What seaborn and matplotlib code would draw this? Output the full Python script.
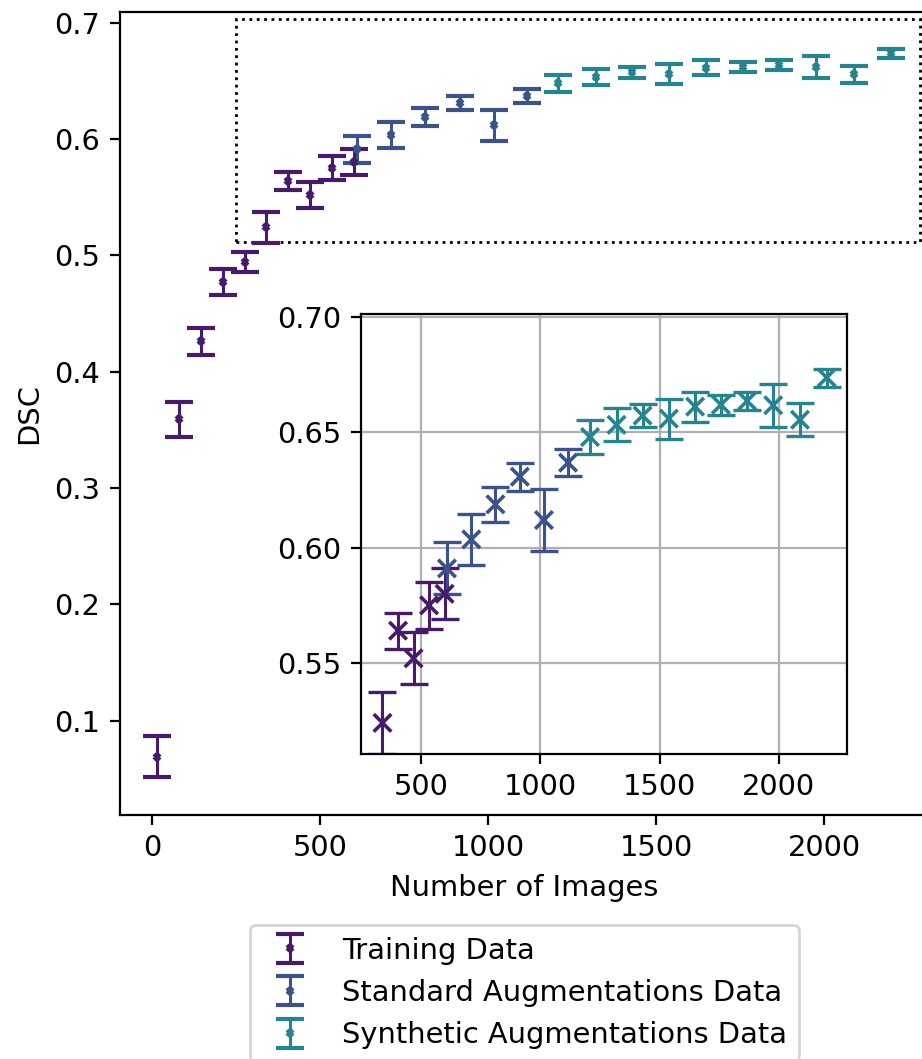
import numpy as np
import pandas as pd
import matplotlib
matplotlib.use("Agg")
import matplotlib.pyplot as plt
from matplotlib.patches import Rectangle
import seaborn as sns

# ---- data ----
train_x = [15, 80, 145, 210, 275, 340, 405, 470, 535, 600]
train_y = [0.069, 0.359, 0.426, 0.477, 0.494, 0.524, 0.564, 0.552, 0.575, 0.580]
train_err = [0.0176, 0.015, 0.0114, 0.0115, 0.0087, 0.0133, 0.0078, 0.0113, 0.0103, 0.011]

std_x = [610, 712, 813, 915, 1016, 1117]
std_y = [0.591, 0.6036, 0.6188, 0.6308, 0.612, 0.6369]
std_err = [0.0113, 0.0112, 0.0075, 0.006, 0.0133, 0.006]

syn_x = [1209, 1320, 1429, 1539, 1649, 1757, 1867, 1976, 2088, 2200]
syn_y = [0.648, 0.6533, 0.6573, 0.656, 0.6612, 0.662, 0.6637, 0.6618, 0.6555, 0.6738]
syn_err = [0.0073, 0.0071, 0.005, 0.0087, 0.0065, 0.0043, 0.004, 0.0093, 0.0071, 0.0039]

labels = ["Training Data", "Standard Augmentations Data", "Synthetic Augmentations Data"]
colors = ["#481a6c", "#3b528b", "#25858e"]

df = pd.concat([
    pd.DataFrame({"n": train_x, "dsc": train_y, "err": train_err, "group": labels[0]}),
    pd.DataFrame({"n": std_x, "dsc": std_y, "err": std_err, "group": labels[1]}),
    pd.DataFrame({"n": syn_x, "dsc": syn_y, "err": syn_err, "group": labels[2]}),
], ignore_index=True)
palette = dict(zip(labels, colors))

plt.rcParams["font.family"] = ["DejaVu Sans"]
plt.rcParams["font.size"] = 10.4

W, H = 922, 1059
fig = plt.figure(figsize=(W / 200, H / 200), dpi=200)

# main axes (right spine lies just beyond the canvas, as in the reference)
ax = fig.add_axes([119.5 / W, 1 - 815 / H, (928 - 119.5) / W, (815 - 12) / H])
for lab in labels:
    d = df[df.group == lab]
    ax.errorbar(d.n, d.dsc, yerr=d.err, fmt="x", ms=2, mew=1.5, color=palette[lab],
                elinewidth=1.1, capsize=5, capthick=1.2, label=lab)
ax.set_xlim(-97, 2309)
ax.set_ylim(0.0189, 0.7092)
ax.set_xlabel("Number of Images")
ax.set_ylabel("DSC")
ax.set_xticks([0, 500, 1000, 1500, 2000])
ax.set_yticks([0.1, 0.2, 0.3, 0.4, 0.5, 0.6, 0.7])

ax.add_patch(Rectangle((250, 0.5116), 2285 - 250, 0.7035 - 0.5116, fill=False,
                       edgecolor="black", linestyle=":", linewidth=1.0, zorder=1))

# inset
axins = fig.add_axes([361 / W, 1 - 754 / H, (847 - 361) / W, (754 - 313.5) / H])
axins.grid(True, color="#b0b0b0", linewidth=0.8, zorder=0)
axins.set_axisbelow(True)
sub = df[df.n >= 250]
for lab in labels:
    d = sub[sub.group == lab]
    axins.errorbar(d.n, d.dsc, yerr=d.err, fmt="none", ecolor=palette[lab],
                   elinewidth=1.1, capsize=5, capthick=1.2)
sns.scatterplot(data=sub, x="n", y="dsc", hue="group", palette=palette, marker="x",
                s=40, linewidth=1.3, legend=False, ax=axins, zorder=3)
axins.set_xlim(250, 2285)
axins.set_ylim(0.5105, 0.7016)
axins.set_xticks([500, 1000, 1500, 2000])
axins.set_yticks([0.55, 0.60, 0.65, 0.70])
axins.set_yticklabels(["0.55", "0.60", "0.65", "0.70"])
axins.set_xlabel("")
axins.set_ylabel("")

ax.legend(loc="upper center", bbox_to_anchor=(524 / W, 1 - 925 / H),
          bbox_transform=fig.transFigure, borderaxespad=0)

fig.savefig("out.png", dpi=200)
